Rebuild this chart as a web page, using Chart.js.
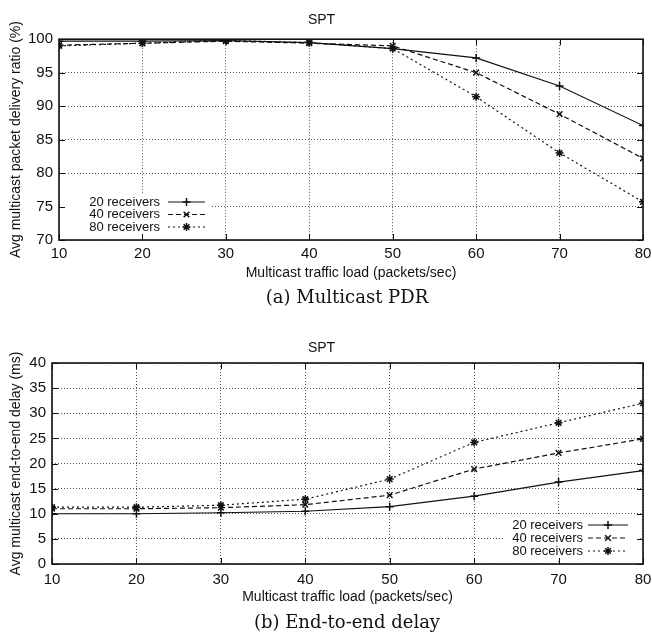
<!DOCTYPE html>
<html>
<head>
<meta charset="utf-8">
<script src="https://cdn.jsdelivr.net/npm/chart.js@4.4.0/dist/chart.umd.min.js"></script>
<style>
  body { margin: 0; background: #fff; }
  #wrap { position: relative; width: 652px; height: 635px; }
  #wrap canvas { position: absolute; left: 0; }
  .cap { position: absolute; left: 0; width: 694px; text-align: center; line-height: 22px;
         font-family: "DejaVu Serif", serif; font-size: 18px; color: #111; }
</style>
</head>
<body>
<div id="wrap">
  <canvas id="pdrChart" width="652" height="290" style="top:0"></canvas>
  <div class="cap" style="top:286px">(a) Multicast PDR</div>
  <canvas id="delayChart" width="652" height="290" style="top:320px"></canvas>
  <div class="cap" style="top:611px">(b) End-to-end delay</div>
</div>
<script>
// traffic load (packets/sec)
const loads = [10, 20, 30, 40, 50, 60, 70, 80];
const seriesNames = ["20 receivers", "40 receivers", "80 receivers"];

// (a) packet delivery ratio (%)
const pdr20 = [99.7, 99.7, 99.8, 99.5, 98.6, 97.2, 93.0, 87.1];
const pdr40 = [99.1, 99.4, 99.7, 99.4, 99.0, 95.0, 88.8, 82.2];
const pdr80 = [99.0, 99.4, 99.8, 99.5, 98.6, 91.4, 83.0, 75.7];
const pdrTicks = [70, 75, 80, 85, 90, 95, 100];

// (b) end-to-end delay (ms)
const delay20 = [10.0, 10.0, 10.2, 10.5, 11.4, 13.5, 16.3, 18.6];
const delay40 = [11.0, 11.0, 11.2, 11.8, 13.7, 18.9, 22.1, 24.9];
const delay80 = [11.3, 11.3, 11.7, 12.9, 16.9, 24.2, 28.1, 32.0];
const delayTicks = [0, 5, 10, 15, 20, 25, 30, 35, 40];

const sans = "'Liberation Sans', Arial, sans-serif";
const ink = "#111";
const styles = [
  { dash: [], point: "cross" },
  { dash: [5, 3], point: "crossRot" },
  { dash: [2, 3], point: "star" }
];

function makeDatasets(seriesList) {
  return seriesList.map((vals, i) => ({
    label: seriesNames[i],
    data: loads.map((x, j) => ({ x: x, y: vals[j] })),
    borderColor: ink,
    borderWidth: 1.2,
    borderDash: styles[i].dash,
    pointStyle: styles[i].point,
    pointRadius: 4,
    pointBorderWidth: 1.5,
    pointBorderColor: ink,
    pointBackgroundColor: ink,
    fill: false,
    tension: 0
  }));
}

// gnuplot style frame with inward ticks
const framePlugin = {
  id: "frame",
  afterDraw(chart) {
    const { ctx, chartArea: a, scales } = chart;
    ctx.save();
    ctx.strokeStyle = ink;
    ctx.lineWidth = 1;
    ctx.setLineDash([]);
    ctx.beginPath();
    scales.x.ticks.forEach(t => {
      const px = Math.round(scales.x.getPixelForValue(t.value)) + 0.5;
      ctx.moveTo(px, a.bottom); ctx.lineTo(px, a.bottom - 6);
      ctx.moveTo(px, a.top); ctx.lineTo(px, a.top + 6);
    });
    scales.y.ticks.forEach(t => {
      const py = Math.round(scales.y.getPixelForValue(t.value)) + 0.5;
      ctx.moveTo(a.left, py); ctx.lineTo(a.left + 6, py);
      ctx.moveTo(a.right, py); ctx.lineTo(a.right - 6, py);
    });
    ctx.stroke();
    ctx.lineWidth = 1.6;
    ctx.strokeRect(a.left, a.top, a.right - a.left, a.bottom - a.top);
    ctx.restore();
  }
};

// key drawn like gnuplot: text right aligned, then line sample with marker
const keyPlugin = {
  id: "gpKey",
  afterDatasetsDraw(chart, args, opts) {
    const { ctx } = chart;
    ctx.save();
    ctx.fillStyle = "#fff";
    ctx.fillRect(opts.box[0], opts.box[1], opts.box[2], opts.box[3]);
    ctx.font = "13px " + sans;
    ctx.textAlign = "right";
    ctx.textBaseline = "middle";
    chart.data.datasets.forEach((ds, i) => {
      const y = opts.rows[i];
      ctx.fillStyle = ink;
      ctx.fillText(ds.label, opts.textRight, y);
      ctx.strokeStyle = ink;
      ctx.lineWidth = ds.borderWidth;
      ctx.setLineDash(ds.borderDash);
      ctx.beginPath();
      ctx.moveTo(opts.line[0], y);
      ctx.lineTo(opts.line[1], y);
      ctx.stroke();
      ctx.setLineDash([]);
      ctx.lineWidth = ds.pointBorderWidth;
      Chart.helpers.drawPoint(ctx, { pointStyle: ds.pointStyle, radius: 4, borderWidth: ds.pointBorderWidth },
        (opts.line[0] + opts.line[1]) / 2, y);
    });
    ctx.restore();
  }
};

function makeChart(id, seriesList, yTicks, yTitle, o) {
  const ctx = document.getElementById(id).getContext("2d");
  return new Chart(ctx, {
    type: "line",
    data: { datasets: makeDatasets(seriesList) },
    plugins: [keyPlugin, framePlugin],
    options: {
      responsive: false,
      animation: false,
      devicePixelRatio: 1,
      layout: { padding: { left: 0, right: 9, top: 0, bottom: 0 } },
      plugins: {
        legend: { display: false },
        tooltip: { enabled: false },
        title: {
          display: true, text: "SPT", color: ink,
          font: { family: sans, size: 14, weight: "normal" },
          padding: o.titlePad
        },
        gpKey: o.key
      },
      scales: {
        x: {
          type: "linear",
          min: loads[0], max: loads[loads.length - 1],
          ticks: { stepSize: 10, color: ink, font: { family: sans, size: 15 }, padding: o.xTickPad, maxRotation: 0 },
          grid: { color: "#555", lineWidth: 1, drawTicks: false },
          border: { display: false, dash: [1, 2] },
          title: { display: true, text: "Multicast traffic load (packets/sec)", color: ink,
                   font: { family: sans, size: 14 }, padding: { top: 0, bottom: o.xTitlePad } },
          afterFit: s => { s.height = o.xHeight; s.paddingLeft = 0; s.paddingRight = 0; }
        },
        y: {
          min: yTicks[0], max: yTicks[yTicks.length - 1],
          ticks: { stepSize: yTicks[1] - yTicks[0], color: ink, font: { family: sans, size: 15 }, padding: 6 },
          grid: { color: "#555", lineWidth: 1, drawTicks: false },
          border: { display: false, dash: [1, 2] },
          title: { display: true, text: yTitle, color: ink,
                   font: { family: sans, size: 14 }, padding: { top: 7.6, bottom: 0 } },
          afterFit: s => { s.width = o.yWidth; }
        }
      }
    }
  });
}

makeChart("pdrChart", [pdr20, pdr40, pdr80], pdrTicks, "Avg multicast packet delivery ratio (%)", {
  titlePad: { top: 12, bottom: 10.4 }, xTickPad: 5, xTitlePad: 8.6, xHeight: 50, yWidth: 59,
  key: { box: [62, 195, 148, 39], rows: [202, 214.5, 227], textRight: 160, line: [168, 205] }
});

makeChart("delayChart", [delay20, delay40, delay80], delayTicks, "Avg multicast end-to-end delay (ms)", {
  titlePad: { top: 19.6, bottom: 6.6 }, xTickPad: 7, xTitlePad: 4.6, xHeight: 46, yWidth: 52,
  key: { box: [505, 196, 135, 44], rows: [205, 218, 231], textRight: 583, line: [588, 628] }
});
</script>
</body>
</html>
